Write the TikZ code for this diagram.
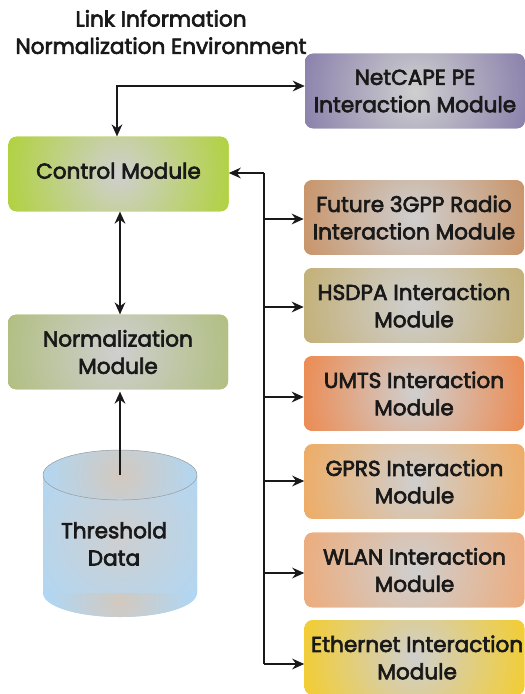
\documentclass[tikz,border=0pt]{standalone}
\usepackage{fontspec}
\setmainfont{Poppins}[FakeBold=3]
\usetikzlibrary{arrows.meta,calc}
\definecolor{cNet}{RGB}{135,125,170}
\definecolor{cCtl}{RGB}{175,210,55}
\definecolor{cNor}{RGB}{175,190,125}
\definecolor{cFut}{RGB}{200,145,100}
\definecolor{cHsd}{RGB}{195,175,115}
\definecolor{cUmt}{RGB}{238,135,75}
\definecolor{cGpr}{RGB}{240,170,95}
\definecolor{cWla}{RGB}{238,170,120}
\definecolor{cEth}{RGB}{245,205,40}
\definecolor{cCyl}{RGB}{175,215,245}
\definecolor{cMid}{RGB}{207,207,207}
\tikzset{
 x=0.75pt,y=-0.75pt,
 modbox/.style={rounded corners=6pt,minimum width=165pt,minimum height=56pt,inner sep=0pt,align=center,
   text=black!90,font=\fontsize{16.2pt}{20.5pt}\selectfont,
   fill=#1,path picture={\shade[inner color=cMid,outer color=#1] (path picture bounding box.center) circle[radius=92pt];}},
 lab/.style={align=center,text=black!90,font=\fontsize{16.2pt}{20.5pt}\selectfont,inner sep=0pt},
 conn/.style={draw=black!90,line width=1.7pt,{Stealth[length=9pt,width=8pt]}-{Stealth[length=9pt,width=8pt]}},
 one/.style={draw=black!90,line width=1.7pt,-{Stealth[length=9pt,width=8pt]}},
 seg/.style={draw=black!90,line width=1.7pt}
}
\begin{document}
\begin{tikzpicture}
\useasboundingbox (0,0) rectangle (525,694);
\node[lab] (title) at (161,32) {Link Information\\Normalization Environment};
\node[modbox=cNet] (net) at (415,91) {NetCAPE PE\\Interaction Module};
\node[modbox=cCtl] (ctl) at (118.5,174) {\raisebox{5pt}{Control Module}};
\node[modbox=cNor] (nor) at (118,352) {Normalization\\Module};
\node[modbox=cFut] (fut) at (414,217.5) {Future 3GPP Radio\\Interaction Module};
\node[modbox=cHsd] (hsd) at (414,305.5) {HSDPA Interaction\\Module};
\node[modbox=cUmt] (umt) at (414,393.5) {UMTS Interaction\\Module};
\node[modbox=cGpr] (gpr) at (414.5,481.5) {GPRS Interaction\\Module};
\node[modbox=cWla] (wla) at (414.5,570) {WLAN Interaction\\Module};
\node[modbox=cEth] (eth) at (414.5,657.5) {\hspace*{4pt}Ethernet Interaction\\\hspace*{4pt}Module};
% cylinder
\path[fill=cCyl] (43,475) -- (43,593) arc[start angle=180,end angle=0,x radius=77,y radius=24] -- (197,475) -- cycle;
\begin{scope}
\clip (43,475) rectangle (197,593);
\shade[inner color=cMid,outer color=cCyl] (120,535) circle[radius=78pt];
\end{scope}
\begin{scope}
\clip (43,593) arc[start angle=180,end angle=0,x radius=77,y radius=24] -- cycle;
\shade[inner color=cMid!92!orange,outer color=cCyl] (120,600) circle[radius=56pt];
\end{scope}
\path[fill=cCyl] (120,475) ellipse[x radius=77,y radius=25];
\begin{scope}
\clip (120,475) ellipse[x radius=77,y radius=25];
\shade[inner color=cMid!92!orange,outer color=cCyl] (120,475) circle[radius=62pt];
\end{scope}
\draw[black!40,line width=0.35pt] (120,475) ellipse[x radius=77,y radius=25];
\node[lab] (thr) at (114,544) {Threshold\\Data};
\coordinate (thrtop) at (120,475);
\coordinate (bus) at (264,173);
\coordinate (busend) at (264,664);
\coordinate (tnet) at (117,86);
\coordinate (vlink) at (120,260);
\foreach \n/\y in {bfut/219,bhsd/307,bumt/397,bgpr/481,bwla/573}{\coordinate (\n) at (264,\y);}
% connectors
\draw[conn] (net.west|-tnet) -- (tnet) -- (tnet|-ctl.north);
\draw[one] (bus) -- (ctl.east|-bus);
\draw[seg] (bus) -- (busend);
\draw[one] (busend) -- (eth.west|-busend);
\draw[one] (bfut) -- (fut.west|-bfut);
\draw[one] (bhsd) -- (hsd.west|-bhsd);
\draw[one] (bumt) -- (umt.west|-bumt);
\draw[one] (bgpr) -- (gpr.west|-bgpr);
\draw[one] (bwla) -- (wla.west|-bwla);
\draw[conn] (vlink|-ctl.south) -- (vlink|-nor.north);
\draw[one] (thrtop) -- ([yshift=-1.5pt]thrtop|-nor.south);
\end{tikzpicture}
\end{document}
